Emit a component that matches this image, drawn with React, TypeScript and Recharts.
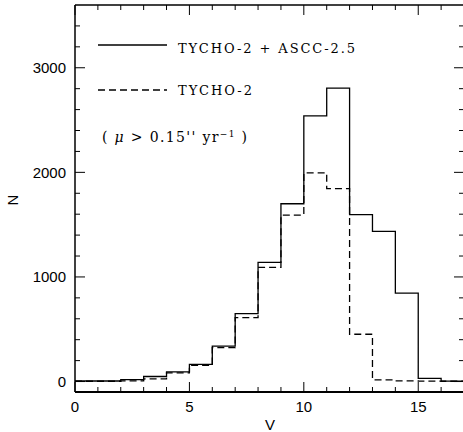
import React from "react";
import { LineChart, Line, XAxis, YAxis } from "recharts";

const binEdges = [0, 1, 2, 3, 4, 5, 6, 7, 8, 9, 10, 11, 12, 13, 14, 15, 16, 17];
const tychoAscc = [5, 5, 18, 48, 92, 165, 338, 650, 1140, 1700, 2540, 2805, 1595, 1435, 845, 30, 4];
const tycho2 = [3, 3, 7, 26, 83, 155, 325, 612, 1092, 1592, 1995, 1845, 452, 15, 6, 4, 3];
const xTicks = [0, 1, 2, 3, 4, 5, 6, 7, 8, 9, 10, 11, 12, 13, 14, 15, 16, 17];
const yTicks = [0, 200, 400, 600, 800, 1000, 1200, 1400, 1600, 1800, 2000, 2200, 2400, 2600, 2800, 3000, 3200, 3400];
const legendLabels = ["TYCHO-2 + ASCC-2.5", "TYCHO-2"];

const data = binEdges.map((v, i) => ({
  v,
  all: tychoAscc[Math.min(i, tychoAscc.length - 1)],
  t2: tycho2[Math.min(i, tycho2.length - 1)],
}));

const SANS = "'Liberation Sans', Arial, sans-serif";
const SERIF = "'DejaVu Serif', 'Liberation Serif', serif";

const BottomTick = (props: any) => {
  const { x, y, payload } = props;
  const v = payload.value;
  const major = v % 5 === 0;
  return (
    <g>
      <line x1={x} x2={x} y1={y} y2={y - (major ? 10 : 5)} stroke="#000" strokeWidth={1} />
      {major && v < 17 ? (
        <text x={x} y={y + 20} textAnchor="middle" fontFamily={SANS} fontSize={15} fill="#000">
          {v}
        </text>
      ) : null}
    </g>
  );
};

const TopTick = (props: any) => {
  const { x, y, payload } = props;
  const major = payload.value % 5 === 0;
  return <line x1={x} x2={x} y1={y} y2={y + (major ? 10 : 5)} stroke="#000" strokeWidth={1} />;
};

const LeftTick = (props: any) => {
  const { x, y, payload } = props;
  const v = payload.value;
  const major = v % 1000 === 0;
  return (
    <g>
      <line x1={x} x2={x + (major ? 10 : 5)} y1={y} y2={y} stroke="#000" strokeWidth={1} />
      {major ? (
        <text x={x - 9} y={y + 5.5} textAnchor="end" fontFamily={SANS} fontSize={15} fill="#000">
          {v}
        </text>
      ) : null}
    </g>
  );
};

const RightTick = (props: any) => {
  const { x, y, payload } = props;
  const major = payload.value % 1000 === 0;
  return <line x1={x} x2={x - (major ? 10 : 5)} y1={y} y2={y} stroke="#000" strokeWidth={1} />;
};

export default function App() {
  return (
    <div style={{ position: "fixed", left: 0, top: 0, width: 463, height: 432, overflow: "hidden", background: "#fff" }}>
      <LineChart width={480} height={432} data={data} margin={{ top: 0, right: 0, bottom: 0, left: 0 }}>
        <XAxis
          xAxisId="b"
          dataKey="v"
          type="number"
          domain={[0, 17]}
          ticks={xTicks}
          interval={0}
          height={40}
          tickSize={0}
          tickMargin={0}
          tickLine={false}
          tick={<BottomTick />}
          axisLine={{ stroke: "#000", strokeWidth: 2 }}
          allowDataOverflow
        />
        <XAxis
          xAxisId="t"
          orientation="top"
          dataKey="v"
          type="number"
          domain={[0, 17]}
          ticks={xTicks}
          interval={0}
          height={5}
          tickSize={0}
          tickMargin={0}
          tickLine={false}
          tick={<TopTick />}
          axisLine={{ stroke: "#000", strokeWidth: 1.5 }}
          allowDataOverflow
        />
        <YAxis
          yAxisId="l"
          type="number"
          domain={[-100, 3600]}
          ticks={yTicks}
          interval={0}
          width={75}
          tickSize={0}
          tickMargin={0}
          tickLine={false}
          tick={<LeftTick />}
          axisLine={{ stroke: "#000", strokeWidth: 1.5 }}
          allowDataOverflow
        />
        <YAxis
          yAxisId="r"
          orientation="right"
          type="number"
          domain={[-100, 3600]}
          ticks={yTicks}
          interval={0}
          width={16}
          tickSize={0}
          tickMargin={0}
          tickLine={false}
          tick={<RightTick />}
          axisLine={{ stroke: "#000", strokeWidth: 1.5 }}
          allowDataOverflow
        />
        <Line
          xAxisId="b"
          yAxisId="l"
          type="stepAfter"
          dataKey="all"
          stroke="#000"
          strokeWidth={1.3}
          dot={false}
          isAnimationActive={false}
        />
        <Line
          xAxisId="b"
          yAxisId="l"
          type="stepAfter"
          dataKey="t2"
          stroke="#000"
          strokeWidth={1.3}
          strokeDasharray="7 4"
          dot={false}
          isAnimationActive={false}
        />
      </LineChart>
      <svg width={463} height={432} style={{ position: "absolute", left: 0, top: 0, pointerEvents: "none" }}>
        <line x1={98} x2={167} y1={45} y2={45} stroke="#000" strokeWidth={1.3} />
        <text x={178} y={52.5} fontFamily={SERIF} fontSize={13} fill="#000" textLength={177} lengthAdjust="spacing">
          {legendLabels[0]}
        </text>
        <line x1={98} x2={167} y1={90} y2={90} stroke="#000" strokeWidth={1.3} strokeDasharray="7 4" />
        <text x={178} y={94.5} fontFamily={SERIF} fontSize={13} fill="#000" textLength={74} lengthAdjust="spacing">
          {legendLabels[1]}
        </text>
        <text x={102} y={141.5} fontFamily={SERIF} fontSize={14} fill="#000" textLength={145} lengthAdjust="spacing" style={{ whiteSpace: "pre" }}>
          {"( "}
          <tspan fontStyle="italic">μ</tspan>
          {" > 0.15'' yr"}
          <tspan fontSize={9} dy={-5}>−1</tspan>
          <tspan dy={5}>{" )"}</tspan>
        </text>
        <text x={270} y={430} textAnchor="middle" fontFamily={SANS} fontSize={15} fill="#000">V</text>
        <text x={18} y={200} textAnchor="middle" fontFamily={SANS} fontSize={15} fill="#000" transform="rotate(-90 18 200)">N</text>
      </svg>
    </div>
  );
}
